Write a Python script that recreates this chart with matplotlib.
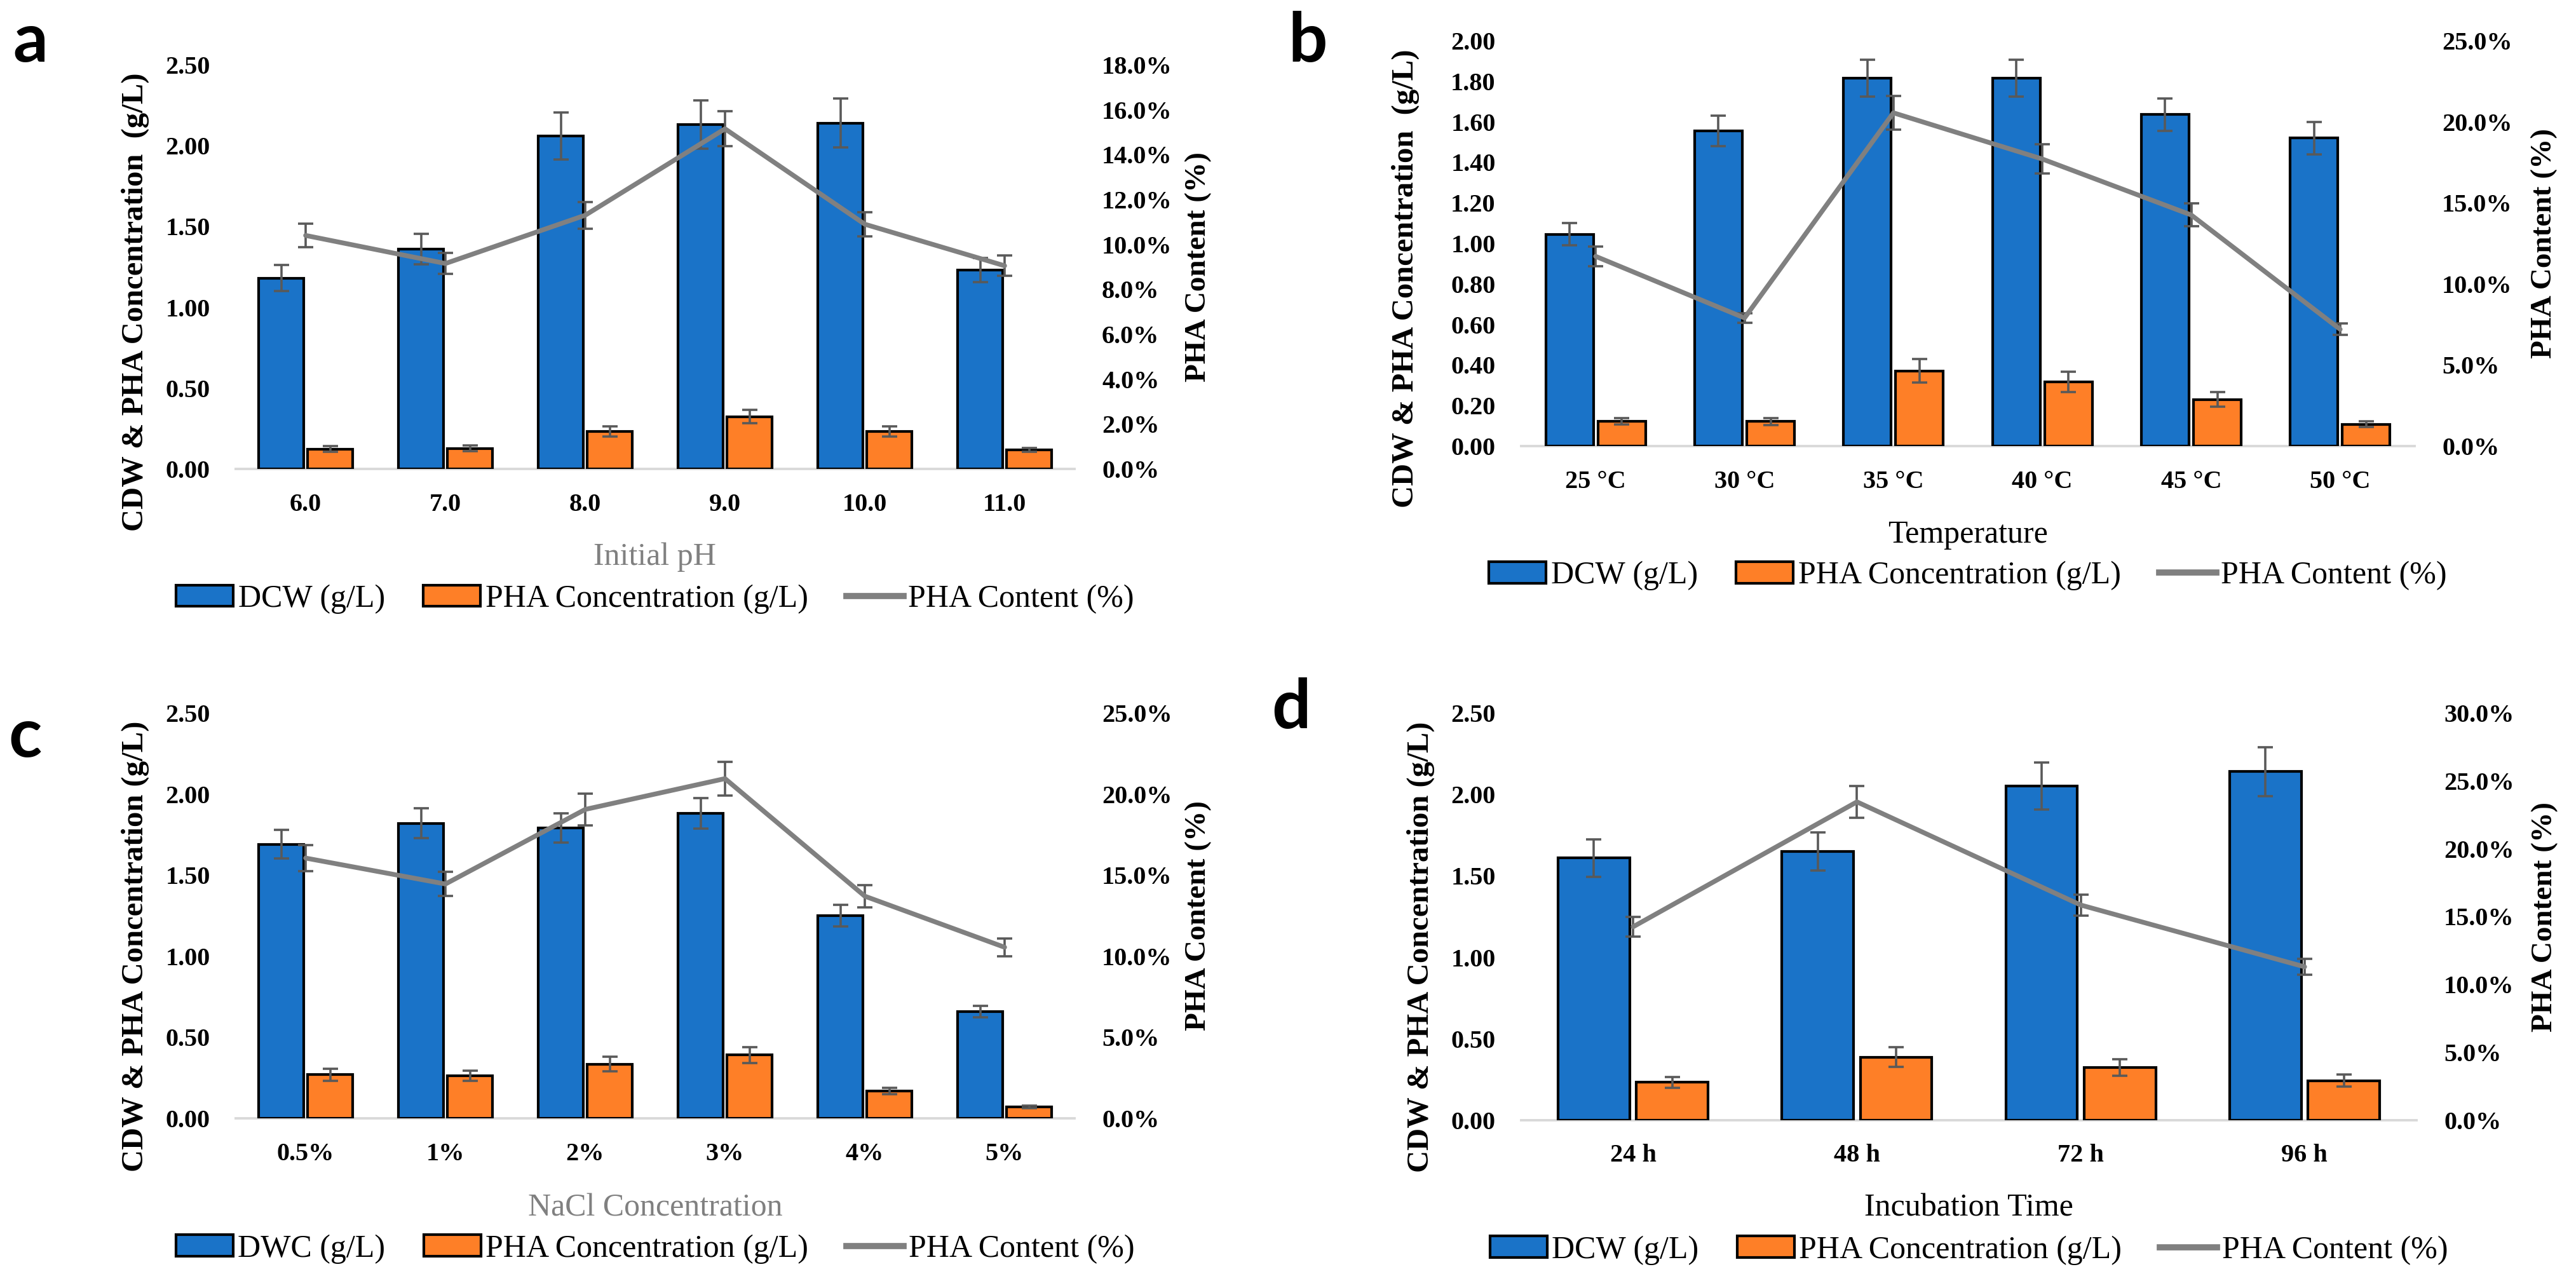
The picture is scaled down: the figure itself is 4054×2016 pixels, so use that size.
import matplotlib
matplotlib.use("Agg")
import matplotlib.pyplot as plt
from matplotlib.patches import Patch
from matplotlib.lines import Line2D
import numpy as np

plt.rcParams['font.family'] = ['Liberation Serif', 'DejaVu Serif']

# ---------------- data ----------------
cats_a = ['6.0', '7.0', '8.0', '9.0', '10.0', '11.0']
dcw_a = [1.18, 1.36, 2.06, 2.13, 2.14, 1.23]
dcw_a_err = [0.08, 0.095, 0.145, 0.15, 0.15, 0.075]
pha_a = [0.123, 0.127, 0.233, 0.323, 0.233, 0.118]
pha_a_err = [0.018, 0.018, 0.031, 0.041, 0.031, 0.012]
cont_a = [10.4, 9.15, 11.3, 15.15, 10.9, 9.05]
cont_a_err = [0.52, 0.47, 0.59, 0.77, 0.54, 0.46]

cats_b = ['25 °C', '30 °C', '35 °C', '40 °C', '45 °C', '50 °C']
dcw_b = [1.045, 1.555, 1.815, 1.815, 1.635, 1.52]
dcw_b_err = [0.055, 0.075, 0.09, 0.09, 0.08, 0.08]
pha_b = [0.122, 0.122, 0.37, 0.318, 0.23, 0.108]
pha_b_err = [0.016, 0.017, 0.058, 0.05, 0.035, 0.015]
cont_b = [11.7, 7.9, 20.55, 17.7, 14.25, 7.2]
cont_b_err = [0.6, 0.3, 1.05, 0.9, 0.7, 0.35]

cats_c = ['0.5%', '1%', '2%', '3%', '4%', '5%']
dcw_c = [1.69, 1.82, 1.79, 1.88, 1.25, 0.66]
dcw_c_err = [0.088, 0.093, 0.089, 0.095, 0.065, 0.035]
pha_c = [0.27, 0.262, 0.335, 0.39, 0.17, 0.069]
pha_c_err = [0.037, 0.03, 0.045, 0.05, 0.02, 0.008]
cont_c = [16.05, 14.45, 19.05, 20.95, 13.7, 10.55]
cont_c_err = [0.8, 0.75, 0.98, 1.05, 0.7, 0.55]

cats_d = ['24 h', '48 h', '72 h', '96 h']
dcw_d = [1.61, 1.65, 2.05, 2.14]
dcw_d_err = [0.115, 0.117, 0.144, 0.15]
pha_d = [0.233, 0.387, 0.324, 0.243]
pha_d_err = [0.034, 0.06, 0.052, 0.037]
cont_d = [14.25, 23.45, 15.85, 11.3]
cont_d_err = [0.73, 1.18, 0.77, 0.59]

BLUE = '#1A73C8'
ORANGE = '#FE7F27'
LINE = '#808080'
ERR = '#595959'

W, H = 4054, 2016
fig = plt.figure(figsize=(W / 100, H / 100), dpi=100)


def px_axes(left, top, right, bottom):
    return fig.add_axes([left / W, 1 - bottom / H, (right - left) / W, (bottom - top) / H])


def panel(ax, cats, dcw, dcw_err, pha, pha_err, cont, cont_err,
          ymax, ystep, rmax, rstep, rfmt, xlabel, xlabel_color, ylabel,
          dcw_label, ylab_pos, rlab_x, xlab_y, leg_y):
    x = np.arange(len(cats))
    bw = 0.32
    off = 0.175
    ekw = dict(ecolor=ERR, elinewidth=2.6, capsize=8.5, capthick=2.6)
    ax.bar(x - off, dcw, bw, color=BLUE, edgecolor='black', linewidth=3,
           yerr=dcw_err, error_kw=ekw, zorder=2)
    ax.bar(x + off, pha, bw, color=ORANGE, edgecolor='black', linewidth=3,
           yerr=pha_err, error_kw=ekw, zorder=2)
    ax.set_xlim(-0.5, len(cats) - 0.5)
    ax.set_ylim(0, ymax)
    ticks = np.arange(0, ymax + ystep / 2, ystep)
    ax.set_yticks(ticks)
    ax.set_yticklabels([f'{t:.2f}' for t in ticks])
    ax.set_xticks(x)
    ax.set_xticklabels(cats)
    for s in ['top', 'left', 'right']:
        ax.spines[s].set_visible(False)
    ax.spines['bottom'].set_color('#D9D9D9')
    ax.spines['bottom'].set_linewidth(2.8)
    ax.spines['bottom'].set_zorder(1)
    ax.tick_params(axis='y', length=0, pad=29, labelsize=29)
    ax.tick_params(axis='x', length=0, pad=27, labelsize=29)
    for lab in ax.get_xticklabels() + ax.get_yticklabels():
        lab.set_fontweight('bold')

    ax2 = ax.twinx()
    ax2.errorbar(x, cont, yerr=cont_err, color=LINE, linewidth=5.4,
                 ecolor=ERR, elinewidth=2.6, capsize=8.5, capthick=2.6,
                 solid_capstyle='round', solid_joinstyle='round', zorder=3)
    ax2.set_ylim(0, rmax)
    rt = np.arange(0, rmax + rstep / 2, rstep)
    ax2.set_yticks(rt)
    ax2.set_yticklabels([rfmt.format(t) for t in rt])
    for s in ['top', 'left', 'right', 'bottom']:
        ax2.spines[s].set_visible(False)
    ax2.tick_params(axis='y', length=0, pad=31, labelsize=29)
    for lab in ax2.get_yticklabels():
        lab.set_fontweight('bold')

    ax.text(ylab_pos[0], ylab_pos[1], ylabel, transform=ax.transAxes,
            rotation=90, ha='center', va='center', fontsize=35, fontweight='bold')
    ax.text(rlab_x, 0.5, 'PHA Content (%)', transform=ax.transAxes,
            rotation=90, ha='center', va='center', fontsize=34, fontweight='bold')
    ax.text(0.5, xlab_y, xlabel, transform=ax.transAxes, ha='center', va='center',
            fontsize=36, color=xlabel_color)

    handles = [Patch(facecolor=BLUE, edgecolor='black', linewidth=3),
               Patch(facecolor=ORANGE, edgecolor='black', linewidth=3),
               Line2D([0], [0], color=LINE, linewidth=7)]
    labels = [dcw_label, 'PHA Concentration (g/L)', 'PHA Content (%)']
    ax.legend(handles, labels, loc='center', bbox_to_anchor=(0.5, leg_y), ncol=3,
              frameon=False, fontsize=36, handlelength=1.8, handleheight=0.65,
              handletextpad=0.15, columnspacing=1.2, borderaxespad=0)


ax_a = px_axes(371, 102, 1691, 738)
panel(ax_a, cats_a, dcw_a, dcw_a_err, pha_a, pha_a_err, cont_a, cont_a_err,
      2.5, 0.5, 18, 2, '{:.1f}%', 'Initial pH', '#808080',
      'CDW & PHA Concentration  (g/L)', 'DCW (g/L)',
      (-0.1197, 0.413), 1.148, -0.218, -0.322)

ax_b = px_axes(2394, 64, 3800, 702)
panel(ax_b, cats_b, dcw_b, dcw_b_err, pha_b, pha_b_err, cont_b, cont_b_err,
      2.0, 0.2, 25, 5, '{:.1f}%', 'Temperature', 'black',
      'CDW & PHA Concentration  (g/L)', 'DCW (g/L)',
      (-0.1294, 0.413), 1.145, -0.219, -0.320)

ax_c = px_axes(371, 1122, 1691, 1760)
panel(ax_c, cats_c, dcw_c, dcw_c_err, pha_c, pha_c_err, cont_c, cont_c_err,
      2.5, 0.5, 25, 5, '{:.1f}%', 'NaCl Concentration', '#808080',
      'CDW & PHA Concentration (g/L)', 'DWC (g/L)',
      (-0.1197, 0.424), 1.148, -0.222, -0.322)

ax_d = px_axes(2394, 1122, 3803, 1763)
panel(ax_d, cats_d, dcw_d, dcw_d_err, pha_d, pha_d_err, cont_d, cont_d_err,
      2.5, 0.5, 30, 5, '{:.1f}%', 'Incubation Time', 'black',
      'CDW & PHA Concentration (g/L)', 'DCW (g/L)',
      (-0.112, 0.425), 1.143, -0.215, -0.319)

letter_kw = dict(fontsize=78, fontweight='bold', family=['Lato', 'DejaVu Sans'],
                 ha='left', va='baseline')
fig.text(20 / W, 1 - 97 / H, 'a', **letter_kw)
fig.text(2027 / W, 1 - 97 / H, 'b', **letter_kw)
fig.text(13 / W, 1 - 1191 / H, 'c', **letter_kw)
fig.text(2001 / W, 1 - 1146 / H, 'd', **letter_kw)

fig.savefig('out.png', dpi=100, facecolor='white')
